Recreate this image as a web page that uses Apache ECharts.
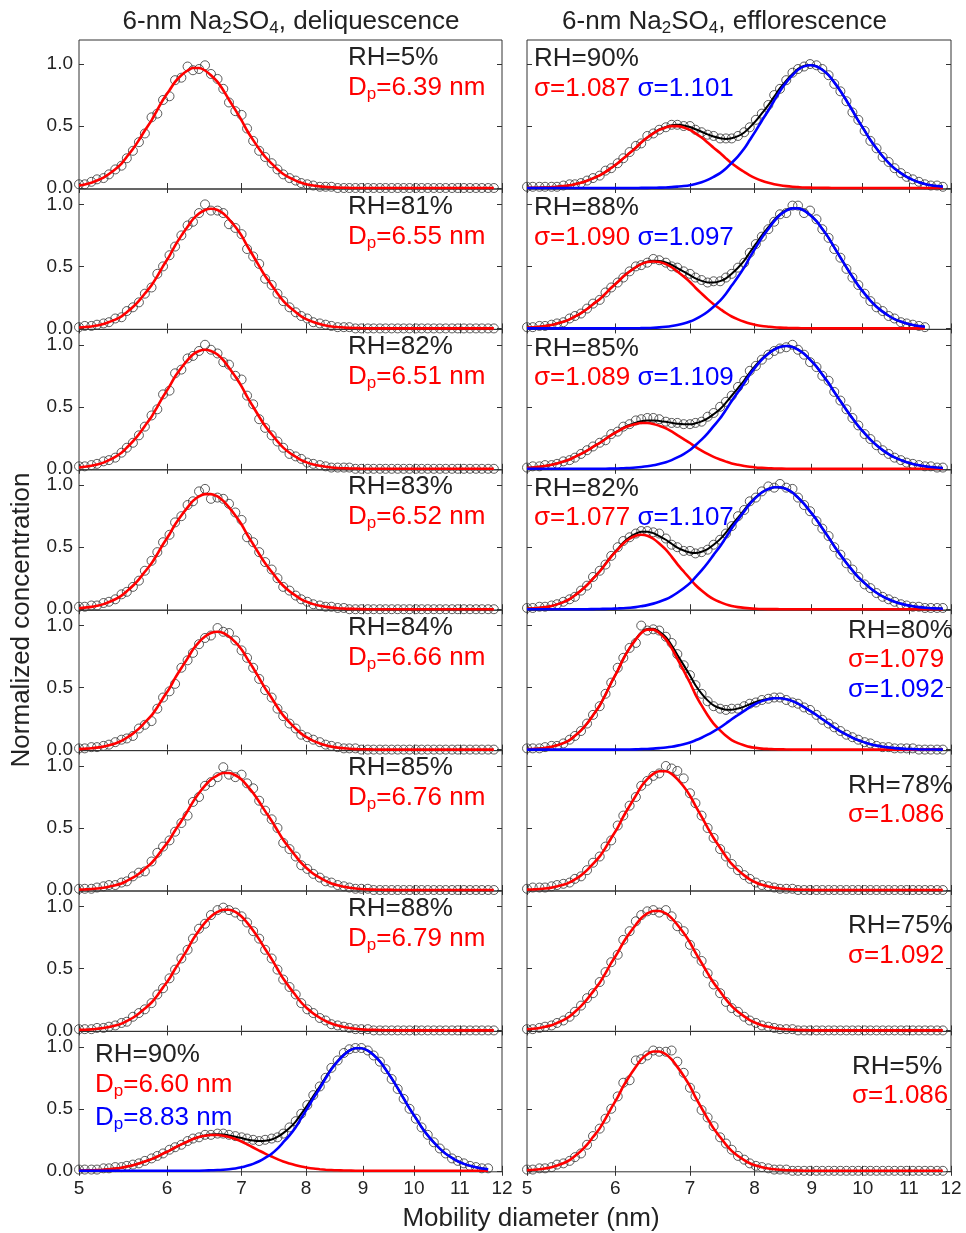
<!DOCTYPE html>
<html><head><meta charset="utf-8">
<script src="https://cdn.jsdelivr.net/npm/echarts@6/dist/echarts.min.js"></script>
<style>html,body{margin:0;padding:0;background:#fff}#c{width:966px;height:1233px}</style>
</head><body><div id="c"></div>
<script>
// ---------- DATA ----------
const diam = [5.00,5.06,5.13,5.19,5.26,5.32,5.39,5.46,5.52,5.59,
5.66,5.73,5.81,5.88,5.95,6.03,6.10,6.18,6.26,6.33,
6.41,6.49,6.57,6.66,6.74,6.82,6.91,7.00,7.08,7.17,
7.26,7.35,7.45,7.54,7.63,7.73,7.83,7.92,8.02,8.12,
8.23,8.33,8.43,8.54,8.65,8.75,8.86,8.97,9.09,9.20,
9.32,9.43,9.55,9.67,9.79,9.91,10.04,10.16,10.29,10.42,
10.55,10.68,10.82,10.95,11.09,11.23,11.37,11.51,11.66,11.80];
const xTicks = [5,6,7,8,9,10,11,12];
const yTicks = [0,0.5,1];

// Left column (deliquescence)
const L1_pts = [.03,.03,.05,.07,.08,.11,.15,.18,.24,.30, .37,.44,.57,.60,.71,.74,.87,.89,.98,.95, .96,.99,.92,.88,.80,.69,.62,.59,.48,.38, .30,.25,.20,.15,.11,.08,.06,.04,.03,.02, .01,.01,.01,0,0,0,0,0,0,0, 0,0,0,0,0,0,0,0,0,0, 0,0,0,0,0,0,0,0,0,0];
const L1_fit = [.020,.029,.043,.060,.084,.113,.151,.197,.252,.315, .386,.464,.546,.630,.712,.789,.856,.910,.948,.968, .968,.948,.910,.856,.789,.712,.630,.546,.464,.386, .315,.252,.197,.151,.113,.084,.060,.043,.029,.020, .013,.009,.006,.003,.002,.001,0,0,0,0, 0,0,0,0,0,0,0,0,0,0, 0,0,0,0,0,0,0,0,0,0];
const L2_pts = [.01,.02,.02,.03,.04,.05,.08,.09,.14,.17, .21,.28,.33,.44,.50,.59,.66,.75,.83,.86, .93,1.0,.95,.95,.93,.84,.81,.76,.64,.58, .52,.40,.35,.28,.22,.17,.13,.10,.08,.05, .04,.03,.02,.01,.01,.01,0,0,0,0, 0,0,0,0,0,0,0,0,0,0, 0,0,0,0,0,0,0,0,0,0];
const L2_fit = [.007,.011,.016,.024,.035,.051,.071,.097,.131,.172, .222,.281,.348,.422,.502,.585,.668,.748,.820,.880, .926,.955,.965,.955,.926,.880,.820,.748,.668,.585, .502,.422,.348,.281,.222,.172,.131,.097,.071,.051, .035,.024,.016,.011,.007,.004,.003,.002,.001,0, 0,0,0,0,0,0,0,0,0,0, 0,0,0,0,0,0,0,0,0,0];
const L3_pts = [.02,.02,.03,.04,.06,.07,.09,.13,.17,.21, .27,.34,.43,.48,.60,.63,.77,.80,.89,.91, .95,1.0,.96,.93,.86,.84,.75,.72,.59,.52, .40,.33,.27,.22,.17,.12,.10,.08,.05,.04, .03,.02,.01,.01,.01,.01,0,0,0,0, 0,0,0,0,0,0,0,0,0,0, 0,0,0,0,0,0,0,0,0,0];
const L3_fit = [.011,.016,.024,.035,.050,.070,.097,.130,.171,.221, .279,.346,.420,.500,.582,.665,.744,.815,.876,.922, .950,.960,.950,.922,.876,.815,.744,.665,.582,.500, .420,.346,.279,.221,.171,.130,.097,.070,.050,.035, .024,.016,.011,.007,.004,.003,.002,.001,0,0, 0,0,0,0,0,0,0,0,0,0, 0,0,0,0,0,0,0,0,0,0];
const L4_pts = [.02,.02,.03,.03,.05,.06,.08,.12,.14,.18, .23,.31,.39,.46,.54,.60,.70,.75,.84,.87, .95,.97,.89,.90,.89,.85,.78,.72,.58,.54, .46,.38,.32,.25,.18,.15,.11,.08,.06,.04, .03,.02,.02,.01,.01,0,0,0,0,0, 0,0,0,0,0,0,0,0,0,0, 0,0,0,0,0,0,0,0,0,0];
const L4_fit = [.008,.013,.019,.028,.041,.058,.080,.109,.145,.189, .241,.302,.370,.445,.524,.604,.683,.756,.821,.873, .909,.928,.928,.909,.873,.821,.756,.683,.604,.524, .445,.370,.302,.241,.189,.145,.109,.080,.058,.041, .028,.019,.013,.008,.005,.003,.002,.001,0,0, 0,0,0,0,0,0,0,0,0,0, 0,0,0,0,0,0,0,0,0,0];
const L5_pts = [.01,.01,.02,.02,.03,.04,.06,.08,.09,.11, .17,.20,.23,.33,.42,.47,.53,.66,.72,.78, .85,.90,.92,.98,.95,.94,.88,.80,.74,.66, .57,.48,.42,.33,.27,.21,.17,.12,.10,.08, .06,.04,.03,.02,.01,.01,.01,0,0,0, 0,0,0,0,0,0,0,0,0,0, 0,0,0,0,0,0,0,0,0,0];
const L5_fit = [.004,.007,.011,.016,.024,.035,.050,.070,.096,.129, .169,.219,.276,.342,.416,.494,.576,.658,.736,.807, .867,.912,.940,.950,.940,.912,.867,.807,.736,.658, .576,.494,.416,.342,.276,.219,.169,.129,.096,.070, .050,.035,.024,.016,.011,.007,.004,.003,.002,.001, 0,0,0,0,0,0,0,0,0,0, 0,0,0,0,0,0,0,0,0,0];
const L6_pts = [.01,.01,.01,.02,.03,.04,.04,.06,.07,.11, .14,.15,.23,.30,.35,.40,.47,.54,.60,.71, .75,.84,.87,.91,.99,.93,.91,.93,.86,.82, .72,.64,.57,.50,.38,.33,.27,.20,.17,.13, .10,.07,.06,.04,.03,.02,.01,.01,.01,0, 0,0,0,0,0,0,0,0,0,0, 0,0,0,0,0,0,0,0,0,0];
const L6_fit = [.003,.005,.008,.012,.018,.027,.038,.053,.073,.099, .131,.171,.218,.273,.336,.405,.480,.557,.636,.711, .782,.842,.891,.925,.943,.943,.925,.891,.842,.782, .711,.636,.557,.480,.405,.336,.273,.218,.171,.131, .099,.073,.053,.038,.027,.018,.012,.008,.005,.003, .002,.001,.001,0,0,0,0,0,0,0, 0,0,0,0,0,0,0,0,0,0];
const L7_pts = [.01,.01,.01,.02,.02,.03,.04,.06,.07,.11, .14,.17,.22,.29,.34,.42,.49,.58,.65,.74, .82,.86,.93,.97,.99,.97,.95,.92,.87,.80, .74,.65,.58,.49,.41,.35,.29,.22,.17,.14, .10,.08,.05,.04,.03,.02,.01,.01,.01,0, 0,0,0,0,0,0,0,0,0,0, 0,0,0,0,0,0,0,0,0,0];
const L7_fit = [.004,.005,.008,.013,.019,.027,.039,.055,.076,.102, .136,.176,.225,.282,.347,.418,.495,.575,.656,.734, .806,.869,.919,.955,.973,.973,.955,.919,.869,.806, .734,.656,.575,.495,.418,.347,.282,.225,.176,.136, .102,.076,.055,.039,.027,.019,.013,.008,.005,.004, .002,.001,.001,0,0,0,0,0,0,0, 0,0,0,0,0,0,0,0,0,0];
const L8_pts = [.01,.01,.01,.01,.02,.02,.03,.03,.04,.05, .06,.08,.10,.12,.14,.17,.19,.21,.24,.26, .27,.29,.29,.30,.30,.29,.28,.27,.26,.25, .24,.25,.26,.27,.30,.35,.40,.46,.53,.61, .68,.75,.83,.89,.95,.98,.99,.99,.97,.93, .88,.82,.74,.66,.58,.50,.42,.35,.29,.23, .18,.14,.10,.08,.06,.04,.03,.02,.02];
const L8_red = [.002,.003,.004,.006,.009,.013,.018,.025,.034,.045, .059,.075,.094,.115,.139,.163,.188,.213,.236,.256, .272,.283,.289,.289,.283,.272,.256,.236,.213,.188, .163,.139,.115,.094,.075,.059,.045,.034,.025,.018, .013,.009,.006,.004,.003,.002,.001,.001,0,0, 0,0,0,0,0,0,0,0,0,0, 0,0,0,0,0,0,0,0,0];
const L8_blue = [0,0,0,0,0,0,0,0,0,0, 0,0,0,0,0,0,0,0,0,.001, .001,.002,.004,.006,.009,.013,.019,.028,.040,.056, .077,.104,.138,.179,.229,.286,.352,.425,.503,.584, .666,.745,.819,.882,.934,.969,.988,.988,.969,.934, .882,.819,.745,.666,.584,.503,.425,.352,.286,.229, .179,.138,.104,.077,.056,.040,.028,.019,.013];
const L8_sum = [.002,.003,.004,.006,.009,.013,.018,.025,.034,.045, .059,.075,.094,.115,.139,.163,.188,.213,.236,.257, .273,.285,.293,.295,.292,.285,.275,.264,.253,.244, .240,.243,.253,.273,.304,.345,.397,.459,.528,.602, .679,.754,.825,.886,.937,.971,.989,.989,.969,.934, .882,.819,.745,.666,.584,.503,.425,.352,.286,.229, .179,.138,.104,.077,.056,.040,.028,.019,.013];

// Right column (efflorescence)
const R1_pts = [.01,.01,.01,.01,.01,.01,.02,.03,.03,.04, .06,.08,.10,.14,.16,.20,.24,.29,.34,.36, .42,.44,.47,.49,.51,.51,.50,.50,.47,.45, .43,.42,.40,.40,.40,.42,.45,.49,.55,.60, .67,.75,.80,.87,.93,.96,.98,1.0,.99,.96, .91,.84,.78,.70,.61,.55,.46,.38,.32,.25, .21,.16,.12,.09,.07,.05,.03,.02,.02,.01];
const R1_red = [.001,.002,.003,.004,.007,.010,.015,.022,.031,.043, .059,.078,.102,.130,.162,.199,.239,.282,.325,.367, .407,.441,.469,.489,.499,.499,.489,.469,.441,.407, .367,.325,.282,.239,.199,.162,.130,.102,.078,.059, .043,.031,.022,.015,.010,.007,.004,.003,.002,.001, .001,0,0,0,0,0,0,0,0,0, 0,0,0,0,0,0,0,0,0,0];
const R1_blue = [0,0,0,0,0,0,0,0,0,0, 0,0,0,0,0,0,0,0,0,.001, .001,.002,.003,.004,.007,.011,.016,.023,.033,.047, .066,.090,.120,.157,.203,.256,.318,.387,.463,.543, .625,.706,.783,.852,.910,.954,.981,.990,.981,.954, .910,.852,.783,.706,.625,.543,.463,.387,.318,.256, .203,.157,.120,.090,.066,.047,.033,.023,.016,.011];
const R1_sum = [.001,.002,.003,.004,.007,.010,.015,.022,.031,.043, .059,.078,.102,.130,.162,.199,.239,.282,.325,.368, .408,.443,.472,.493,.506,.510,.505,.492,.474,.454, .433,.415,.402,.396,.402,.418,.448,.489,.541,.602, .668,.737,.805,.867,.920,.961,.985,.993,.983,.955, .911,.852,.783,.706,.625,.543,.463,.387,.318,.256, .203,.157,.120,.090,.066,.047,.033,.023,.016,.011];
const R2_pts = [.01,.01,.02,.02,.03,.04,.05,.08,.10,.12, .16,.20,.23,.29,.33,.37,.41,.46,.50,.51, .53,.56,.55,.53,.50,.49,.46,.44,.41,.39, .37,.38,.38,.41,.44,.49,.53,.61,.68,.74, .80,.86,.92,.93,.99,.99,.93,.95,.88,.80, .73,.64,.57,.48,.41,.35,.28,.22,.17,.14, .10,.08,.05,.04,.03,.02,.01];
const R2_red = [.006,.009,.014,.020,.028,.040,.054,.073,.096,.124, .157,.195,.236,.281,.328,.374,.418,.459,.493,.518, .535,.540,.535,.518,.493,.459,.418,.374,.328,.281, .236,.195,.157,.124,.096,.073,.054,.040,.028,.020, .014,.009,.006,.004,.002,.002,.001,.001,0,0, 0,0,0,0,0,0,0,0,0,0, 0,0,0,0,0,0,0];
const R2_blue = [0,0,0,0,0,0,0,0,0,0, 0,0,0,0,0,0,0,.001,.001,.002, .003,.005,.008,.013,.019,.027,.039,.055,.075,.102, .135,.175,.224,.280,.345,.416,.492,.572,.653,.730, .802,.865,.915,.950,.968,.968,.950,.915,.865,.802, .730,.653,.572,.492,.416,.345,.280,.224,.175,.135, .102,.075,.055,.039,.027,.019,.013];
const R2_sum = [.006,.009,.014,.020,.028,.040,.054,.073,.096,.124, .157,.195,.236,.281,.328,.374,.418,.460,.494,.520, .538,.545,.543,.531,.512,.486,.457,.429,.403,.383, .371,.370,.381,.404,.441,.489,.546,.612,.681,.750, .816,.874,.921,.954,.970,.970,.951,.916,.865,.802, .730,.653,.572,.492,.416,.345,.280,.224,.175,.135, .102,.075,.055,.039,.027,.019,.013];
const R3_pts = [.01,.02,.02,.03,.03,.04,.06,.07,.09,.12, .15,.18,.21,.23,.28,.30,.34,.36,.39,.40, .41,.41,.40,.38,.37,.37,.36,.36,.37,.38, .42,.45,.50,.54,.59,.66,.71,.79,.83,.88, .92,.95,.97,.98,1.0,.96,.92,.86,.82,.75, .71,.62,.55,.48,.41,.35,.28,.24,.19,.15, .12,.09,.07,.05,.04,.03,.02,.02,.01,.01];
const R3_red = [.008,.011,.016,.023,.032,.043,.058,.075,.096,.120, .147,.177,.208,.240,.272,.301,.327,.347,.362,.369, .369,.362,.347,.327,.301,.272,.240,.208,.177,.147, .120,.096,.075,.058,.043,.032,.023,.016,.011,.008, .005,.003,.002,.001,.001,0,0,0,0,0, 0,0,0,0,0,0,0,0,0,0, 0,0,0,0,0,0,0,0,0,0];
const R3_blue = [0,0,0,0,0,0,0,0,0,0, 0,0,.001,.001,.002,.003,.005,.007,.010,.014, .020,.028,.039,.052,.070,.092,.119,.151,.190,.235, .286,.344,.407,.475,.546,.619,.691,.760,.824,.880, .927,.961,.983,.990,.983,.961,.927,.880,.824,.760, .691,.619,.546,.475,.407,.344,.286,.235,.190,.151, .119,.092,.070,.052,.039,.028,.020,.014,.010,.007];
const R3_sum = [.008,.011,.016,.023,.032,.043,.058,.075,.096,.120, .147,.177,.209,.241,.274,.304,.332,.354,.372,.383, .389,.390,.386,.379,.371,.364,.359,.359,.367,.382, .406,.440,.482,.533,.589,.651,.714,.776,.835,.888, .932,.964,.985,.991,.984,.961,.927,.880,.824,.760, .691,.619,.546,.475,.407,.344,.286,.235,.190,.151, .119,.092,.070,.052,.039,.028,.020,.014,.010,.007];
const R4_pts = [.01,.01,.02,.02,.03,.04,.06,.08,.10,.15, .19,.26,.31,.36,.43,.50,.55,.58,.61,.63, .63,.62,.61,.57,.52,.50,.47,.47,.45,.46, .48,.52,.56,.61,.67,.75,.80,.87,.90,.95, .99,.98,1.01,.98,.97,.90,.84,.79,.71,.65, .59,.50,.44,.37,.32,.26,.20,.17,.13,.10, .08,.06,.04,.03,.02,.02,.01,.01,.01,.01];
const R4_red = [.004,.007,.011,.017,.026,.039,.057,.081,.112,.150, .195,.247,.304,.364,.424,.480,.530,.568,.592,.600, .592,.568,.530,.480,.424,.364,.304,.247,.195,.150, .112,.081,.057,.039,.026,.017,.011,.007,.004,.002, .001,.001,0,0,0,0,0,0,0,0, 0,0,0,0,0,0,0,0,0,0, 0,0,0,0,0,0,0,0,0,0];
const R4_blue = [0,0,0,0,0,0,0,0,0,0, 0,.001,.002,.003,.004,.006,.008,.012,.017,.024, .033,.045,.060,.080,.104,.133,.169,.210,.258,.313, .373,.438,.508,.579,.652,.722,.789,.849,.900,.941, .969,.983,.983,.969,.941,.900,.849,.789,.722,.652, .579,.508,.438,.373,.313,.258,.210,.169,.133,.104, .080,.060,.045,.033,.024,.017,.012,.008,.006,.004];
const R4_sum = [.004,.007,.011,.017,.026,.039,.057,.081,.112,.150, .195,.248,.306,.367,.428,.486,.538,.580,.609,.624, .625,.613,.590,.560,.528,.497,.473,.457,.453,.463, .485,.519,.565,.618,.678,.739,.800,.856,.904,.943, .970,.984,.983,.969,.941,.900,.849,.789,.722,.652, .579,.508,.438,.373,.313,.258,.210,.169,.133,.104, .080,.060,.045,.033,.024,.017,.012,.008,.006,.004];
const R5_pts = [.01,.01,.01,.02,.03,.03,.05,.08,.11,.15, .21,.28,.35,.45,.54,.66,.74,.82,.86,1.0, .96,.97,.96,.91,.86,.77,.68,.60,.52,.45, .39,.35,.33,.32,.33,.33,.35,.37,.38,.40, .41,.42,.42,.40,.38,.37,.34,.32,.28,.24, .21,.18,.15,.12,.10,.08,.06,.05,.03,.02, .02,.01,.01,.01,.01,0,0,0,0,0];
const R5_red = [.003,.005,.008,.014,.022,.035,.052,.077,.111,.155, .210,.277,.356,.444,.539,.637,.732,.818,.889,.940, .967,.967,.940,.889,.818,.732,.637,.539,.444,.356, .277,.210,.155,.111,.077,.052,.035,.022,.014,.008, .005,.003,.002,.001,0,0,0,0,0,0, 0,0,0,0,0,0,0,0,0,0, 0,0,0,0,0,0,0,0,0,0];
const R5_blue = [0,0,0,0,0,0,0,0,0,0, 0,0,0,0,0,0,.001,.001,.002,.004, .005,.008,.012,.017,.023,.032,.044,.058,.075,.096, .120,.147,.178,.211,.245,.279,.312,.343,.370,.391, .406,.414,.414,.406,.391,.370,.343,.312,.279,.245, .211,.178,.147,.120,.096,.075,.058,.044,.032,.023, .017,.012,.008,.005,.004,.002,.001,.001,0,0];
const R5_sum = [.003,.005,.008,.014,.022,.035,.052,.077,.111,.155, .210,.277,.356,.444,.539,.637,.733,.819,.891,.944, .972,.975,.952,.906,.841,.764,.681,.597,.519,.452, .397,.357,.333,.322,.322,.331,.347,.365,.384,.399, .411,.417,.416,.407,.391,.370,.343,.312,.279,.245, .211,.178,.147,.120,.096,.075,.058,.044,.032,.023, .017,.012,.008,.005,.004,.002,.001,.001,0,0];
const R6_pts = [.01,.02,.02,.02,.03,.04,.05,.06,.09,.11, .16,.22,.27,.35,.40,.52,.60,.68,.75,.84, .88,.92,.94,1.0,.98,.96,.90,.78,.70,.60, .50,.42,.33,.27,.21,.16,.12,.09,.06,.04, .03,.02,.01,.01,.01,0,0,0,0,0, 0,0,0,0,0,0,0,0,0,0, 0,0,0,0,0,0,0,0,0,0];
const R6_fit = [.003,.005,.008,.012,.019,.029,.042,.061,.086,.118, .160,.210,.271,.341,.419,.503,.591,.678,.761,.834, .894,.936,.957,.957,.936,.894,.834,.761,.678,.591, .503,.419,.341,.271,.210,.160,.118,.086,.061,.042, .029,.019,.012,.008,.005,.003,.002,.001,0,0, 0,0,0,0,0,0,0,0,0,0, 0,0,0,0,0,0,0,0,0,0];
const R7_pts = [.01,.01,.02,.03,.04,.06,.08,.11,.15,.20, .26,.30,.39,.47,.55,.61,.73,.80,.88,.93, .96,.97,.95,.97,.92,.84,.80,.69,.62,.56, .46,.37,.30,.23,.18,.15,.11,.08,.06,.04, .03,.02,.01,.01,.01,0,0,0,0,0, 0,0,0,0,0,0,0,0,0,0, 0,0,0,0,0,0,0,0,0,0];
const R7_fit = [.009,.013,.020,.029,.042,.060,.083,.113,.150,.196, .250,.313,.384,.462,.544,.627,.709,.785,.852,.905, .943,.963,.963,.943,.905,.852,.785,.709,.627,.544, .462,.384,.313,.250,.196,.150,.113,.083,.060,.042, .029,.020,.013,.009,.006,.003,.002,.001,0,0, 0,0,0,0,0,0,0,0,0,0, 0,0,0,0,0,0,0,0,0,0];
const R8_pts = [.01,.01,.02,.02,.03,.05,.06,.08,.11,.14, .21,.28,.34,.42,.50,.60,.71,.73,.89,.90, .93,.97,.96,.96,.97,.88,.79,.67,.60,.49, .43,.36,.27,.22,.17,.12,.09,.06,.04,.03, .02,.01,.01,.01,0,0,0,0,0,0, 0,0,0,0,0,0,0,0,0,0, 0,0,0,0,0,0,0,0,0,0];
const R8_fit = [.005,.008,.012,.019,.029,.042,.061,.086,.119,.161, .211,.272,.342,.421,.506,.594,.682,.765,.838,.898, .940,.962,.962,.940,.898,.838,.765,.682,.594,.506, .421,.342,.272,.211,.161,.119,.086,.061,.042,.029, .019,.012,.008,.005,.003,.002,.001,0,0,0, 0,0,0,0,0,0,0,0,0,0, 0,0,0,0,0,0,0,0,0,0];

const leftSets = [
  {pts:L1_pts, red:L1_fit, rh:'RH=5%',  dp:['6.39']},
  {pts:L2_pts, red:L2_fit, rh:'RH=81%', dp:['6.55']},
  {pts:L3_pts, red:L3_fit, rh:'RH=82%', dp:['6.51']},
  {pts:L4_pts, red:L4_fit, rh:'RH=83%', dp:['6.52']},
  {pts:L5_pts, red:L5_fit, rh:'RH=84%', dp:['6.66']},
  {pts:L6_pts, red:L6_fit, rh:'RH=85%', dp:['6.76']},
  {pts:L7_pts, red:L7_fit, rh:'RH=88%', dp:['6.79']},
  {pts:L8_pts, red:L8_red, blue:L8_blue, sum:L8_sum, rh:'RH=90%', dp:['6.60','8.83']}
];
const rightSets = [
  {pts:R1_pts, red:R1_red, blue:R1_blue, sum:R1_sum, rh:'RH=90%', sg:['1.087','1.101']},
  {pts:R2_pts, red:R2_red, blue:R2_blue, sum:R2_sum, rh:'RH=88%', sg:['1.090','1.097']},
  {pts:R3_pts, red:R3_red, blue:R3_blue, sum:R3_sum, rh:'RH=85%', sg:['1.089','1.109']},
  {pts:R4_pts, red:R4_red, blue:R4_blue, sum:R4_sum, rh:'RH=82%', sg:['1.077','1.107']},
  {pts:R5_pts, red:R5_red, blue:R5_blue, sum:R5_sum, rh:'RH=80%', sg:['1.079','1.092']},
  {pts:R6_pts, red:R6_fit, rh:'RH=78%', sg:['1.086']},
  {pts:R7_pts, red:R7_fit, rh:'RH=75%', sg:['1.092']},
  {pts:R8_pts, red:R8_fit, rh:'RH=5%',  sg:['1.086']}
];

// ---------- LAYOUT ----------
const F = '"Liberation Sans", Arial, Helvetica, sans-serif';
const TOPS = [40,189,329.4,469.8,610.2,750.6,891,1031.4];
const HEIGHTS = [149,140.4,140.4,140.4,140.4,140.4,140.4,140.4];
const COLS = [{left:79,width:423},{left:527,width:424}];
const RED='#ff0000', BLUE='#0000ff', INK='#222';

const pairs = vals => vals.map((v,i)=>[diam[i], v]);

const grids=[], xAxes=[], yAxes=[], series=[];
function addPanel(col,row,set){
  const g = grids.length;
  grids.push({left:COLS[col].left, width:COLS[col].width, top:TOPS[row], height:HEIGHTS[row],
    show:true, borderColor:'#333', borderWidth:1, backgroundColor:'transparent'});
  const tick = {show:true, inside:true, length:5, customValues:xTicks, lineStyle:{color:'#333',width:1}};
  const base = {type:'log', logBase:10, min:5, max:12, gridIndex:g,
    axisLine:{show:false}, splitLine:{show:false}, minorTick:{show:false}};
  xAxes.push(Object.assign({}, base, {position:'bottom', axisTick:tick,
    axisLabel:{show:row===7, customValues:xTicks, fontSize:19, color:INK, fontFamily:F, margin:7}}));
  xAxes.push(Object.assign({}, base, {position:'top', axisTick:tick, axisLabel:{show:false}}));
  const ymax = row===0 ? 1.194 : 1.124;
  const ytick = {show:true, inside:true, length:5, customValues:yTicks, lineStyle:{color:'#333',width:1}};
  const ybase = {type:'value', min:-0.008, max:ymax, gridIndex:g, axisLine:{show:false}, splitLine:{show:false}};
  yAxes.push(Object.assign({}, ybase, {position:'left', axisTick:ytick,
    axisLabel:{show:col===0, customValues:yTicks, formatter:v=>v.toFixed(1), fontSize:19, color:INK, fontFamily:F, margin:6}}));
  yAxes.push(Object.assign({}, ybase, {position:'right', axisTick:ytick, axisLabel:{show:false}}));
  const xi = 2*g, yi = 2*g;
  series.push({type:'scatter', xAxisIndex:xi, yAxisIndex:yi, data:pairs(set.pts), symbol:'circle', symbolSize:9,
    itemStyle:{color:'rgba(255,255,255,0)', borderColor:'#333', borderWidth:1}, silent:true, z:2, animation:false});
  const line = (vals,color,w,z)=>({type:'line', xAxisIndex:xi, yAxisIndex:yi, data:pairs(vals), showSymbol:false,
    smooth:0.3, lineStyle:{color, width:w}, silent:true, z, animation:false});
  if(set.sum) series.push(line(set.sum,'#000',2,3));
  series.push(line(set.red,RED,2.6,4));
  if(set.blue) series.push(line(set.blue,BLUE,2.6,5));
}
leftSets.forEach((s,r)=>addPanel(0,r,s));
rightSets.forEach((s,r)=>addPanel(1,r,s));

// ---------- TEXT ----------
const RICH = {
  k:{fill:INK, fontSize:26, fontFamily:F, lineHeight:30},
  r:{fill:RED, fontSize:26, fontFamily:F, lineHeight:30},
  b:{fill:BLUE, fontSize:26, fontFamily:F, lineHeight:30},
  ks:{fill:INK, fontSize:17, fontFamily:F, lineHeight:17, verticalAlign:'bottom'},
  rs:{fill:RED, fontSize:17, fontFamily:F, lineHeight:17, verticalAlign:'bottom'},
  bs:{fill:BLUE, fontSize:17, fontFamily:F, lineHeight:17, verticalAlign:'bottom'}
};
const graphics = [];
function txt(x,y,text,align,rot){
  const el = {type:'text', x, y, silent:true, z:100,
    style:{text, rich:RICH, align:align||'left', verticalAlign:'middle', fontFamily:F, fontSize:26, fill:INK}};
  if(rot) el.rotation = rot;
  graphics.push(el);
}
const dpText = (v,c)=>`{${c}|D}{${c}s|p}{${c}|=${v} nm}`;
// left column
leftSets.forEach((s,r)=>{
  if(r<7){
    txt(348, TOPS[r]+17.5, `{k|${s.rh}}`);
    txt(348, TOPS[r]+47.5, dpText(s.dp[0],'r'));
  } else {
    txt(95, 1055, `{k|${s.rh}}`);
    txt(95, 1085, dpText(s.dp[0],'r'));
    txt(95, 1118, dpText(s.dp[1],'b'));
  }
});
// right column
rightSets.forEach((s,r)=>{
  if(r<4){
    txt(534, TOPS[r]+19, `{k|${s.rh}}`);
    txt(534, TOPS[r]+48.5, `{r|σ=${s.sg[0]} }{b|σ=${s.sg[1]}}`);
  } else if(r===4){
    txt(848, 631, `{k|${s.rh}}`);
    txt(848, 660, `{r|σ=${s.sg[0]}}`);
    txt(848, 690, `{b|σ=${s.sg[1]}}`);
  } else {
    const x = r===7 ? 852 : 848;
    const y0 = TOPS[r]+35.2;
    txt(x, y0, `{k|${s.rh}}`);
    txt(x, y0+29.3, `{r|σ=${s.sg[0]}}`);
  }
});
// titles and axis names
txt(291, 22, '{k|6-nm Na}{ks|2}{k|SO}{ks|4}{k|, deliquescence}', 'center');
txt(724.5, 22, '{k|6-nm Na}{ks|2}{k|SO}{ks|4}{k|, efflorescence}', 'center');
txt(22, 620, '{k|Normalized concentration}', 'center', Math.PI/2);
txt(531, 1219, '{k|Mobility diameter (nm)}', 'center');

const chart = echarts.init(document.getElementById('c'), null, {renderer:'canvas'});
chart.setOption({
  animation:false,
  backgroundColor:'#fff',
  grid:grids, xAxis:xAxes, yAxis:yAxes, series,
  graphic:graphics
});
</script></body></html>
